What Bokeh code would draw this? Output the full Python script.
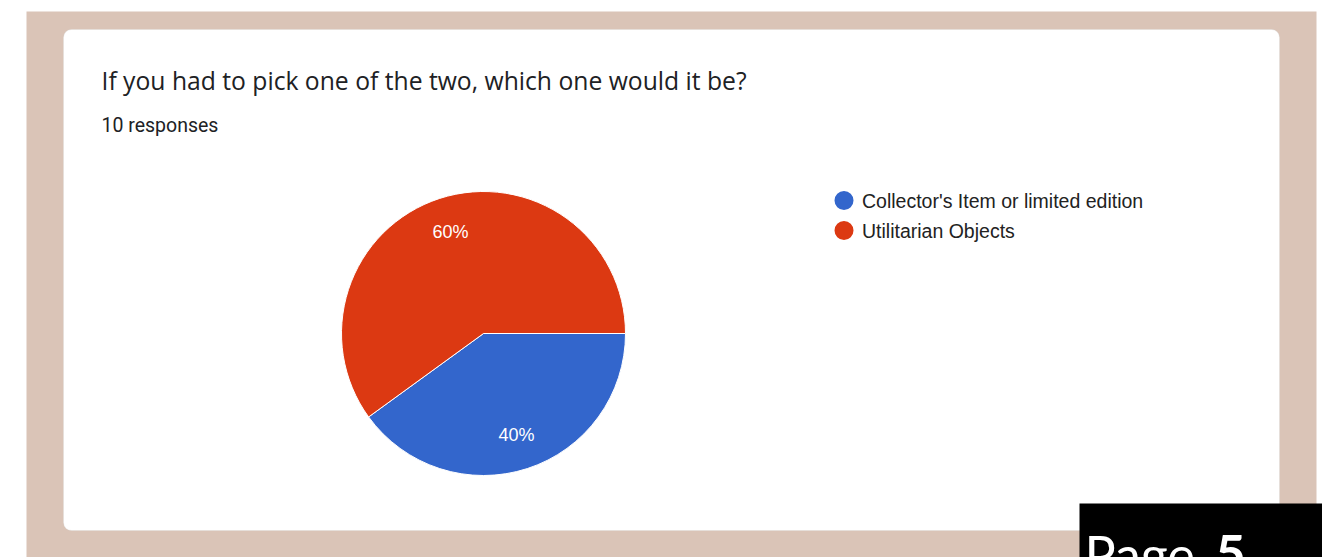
import math
from bokeh.plotting import figure
from bokeh.models import Range1d, BoxAnnotation, ColumnDataSource, Label
from bokeh.core.properties import value
from bokeh.embed import file_html
from bokeh.resources import INLINE

# ---- data ----
categories = ["Collector's Item or limited edition", "Utilitarian Objects"]
counts = [4, 6]
colors = ["#3366cc", "#dc3912"]
title_text = "If you had to pick one of the two, which one would it be?"
subtitle_text = "10 responses"

W, H = 1322, 557
p = figure(width=W, height=H, x_range=Range1d(0, W), y_range=Range1d(0, H),
           x_axis_type=None, y_axis_type=None, toolbar_location=None,
           output_backend="svg", min_border=0)
p.outline_line_color = None
p.background_fill_color = "white"
p.border_fill_color = "white"
p.xgrid.visible = False
p.ygrid.visible = False

def Y(y):  # top-based pixel -> data
    return H - y

# page background
p.add_layout(BoxAnnotation(left=26, right=1316, bottom=Y(557), top=Y(11),
                           fill_color="#dac4b7", fill_alpha=1, line_color=None, level="underlay"))
# card
p.add_layout(BoxAnnotation(left=63, right=1279, bottom=Y(530), top=Y(29),
                           fill_color="white", fill_alpha=1, line_color="#d6d6d6",
                           line_width=1, border_radius=8, level="underlay"))

# pie
total = sum(counts)
cx, cy, r = 483, Y(333), 142
starts, ends, lx, ly, pct = [], [], [], [], []
cum = 0.0
for c in counts:
    a0 = -2 * math.pi * cum / total
    cum += c
    a1 = -2 * math.pi * cum / total
    starts.append(a0)
    ends.append(a1)
    mid = (a0 + a1) / 2
    lx.append(cx + 0.75 * r * math.cos(mid))
    ly.append(cy + 0.75 * r * math.sin(mid))
    pct.append(f"{round(100 * c / total)}%")

src = ColumnDataSource(dict(start=starts, end=ends, color=colors, lx=lx, ly=ly, pct=pct,
                            cat=categories))
p.wedge(x=cx, y=cy, radius=r, start_angle="start", end_angle="end", direction="clock",
        fill_color="color", line_color="white", line_width=1, source=src)
p.text(x="lx", y="ly", text="pct", source=src, text_color="white",
       text_font=value("Liberation Sans"), text_font_size="18px",
       text_align="center", text_baseline="middle")

# legend
leg_y = [Y(200 + 30 * i) for i in range(len(categories))]
src2 = ColumnDataSource(dict(y=leg_y, color=colors, cat=categories))
p.scatter(x=843.5, y="y", size=19, fill_color="color", line_color=None, source=src2)
p.text(x=861.5, y="y", text="cat", source=src2, text_color="#222222",
       text_font=value("Liberation Sans"), text_font_size="19.5px",
       text_baseline="middle", text_align="left")

# titles
p.add_layout(Label(x=101, y=Y(80), text=title_text, text_font="Open Sans",
                   text_font_size="24.7px", text_color="#202124", text_baseline="middle"))
p.add_layout(Label(x=101, y=Y(125), text=subtitle_text, text_font="Roboto",
                   text_font_size="19.5px", text_color="#202124", text_baseline="middle"))

# page badge
p.add_layout(BoxAnnotation(left=1079, right=1322, bottom=Y(557), top=Y(503),
                           fill_color="black", fill_alpha=1, line_color=None))
p.add_layout(Label(x=1084, y=Y(553), text="Page", text_font="Lato",
                   text_font_size="52px", text_color="white", text_baseline="alphabetic"))
p.add_layout(Label(x=1215, y=Y(553), text="5", text_font="Lato", text_font_style="bold",
                   text_font_size="52px", text_color="white", text_baseline="alphabetic"))

open("out.html", "w").write(file_html(p, INLINE))
